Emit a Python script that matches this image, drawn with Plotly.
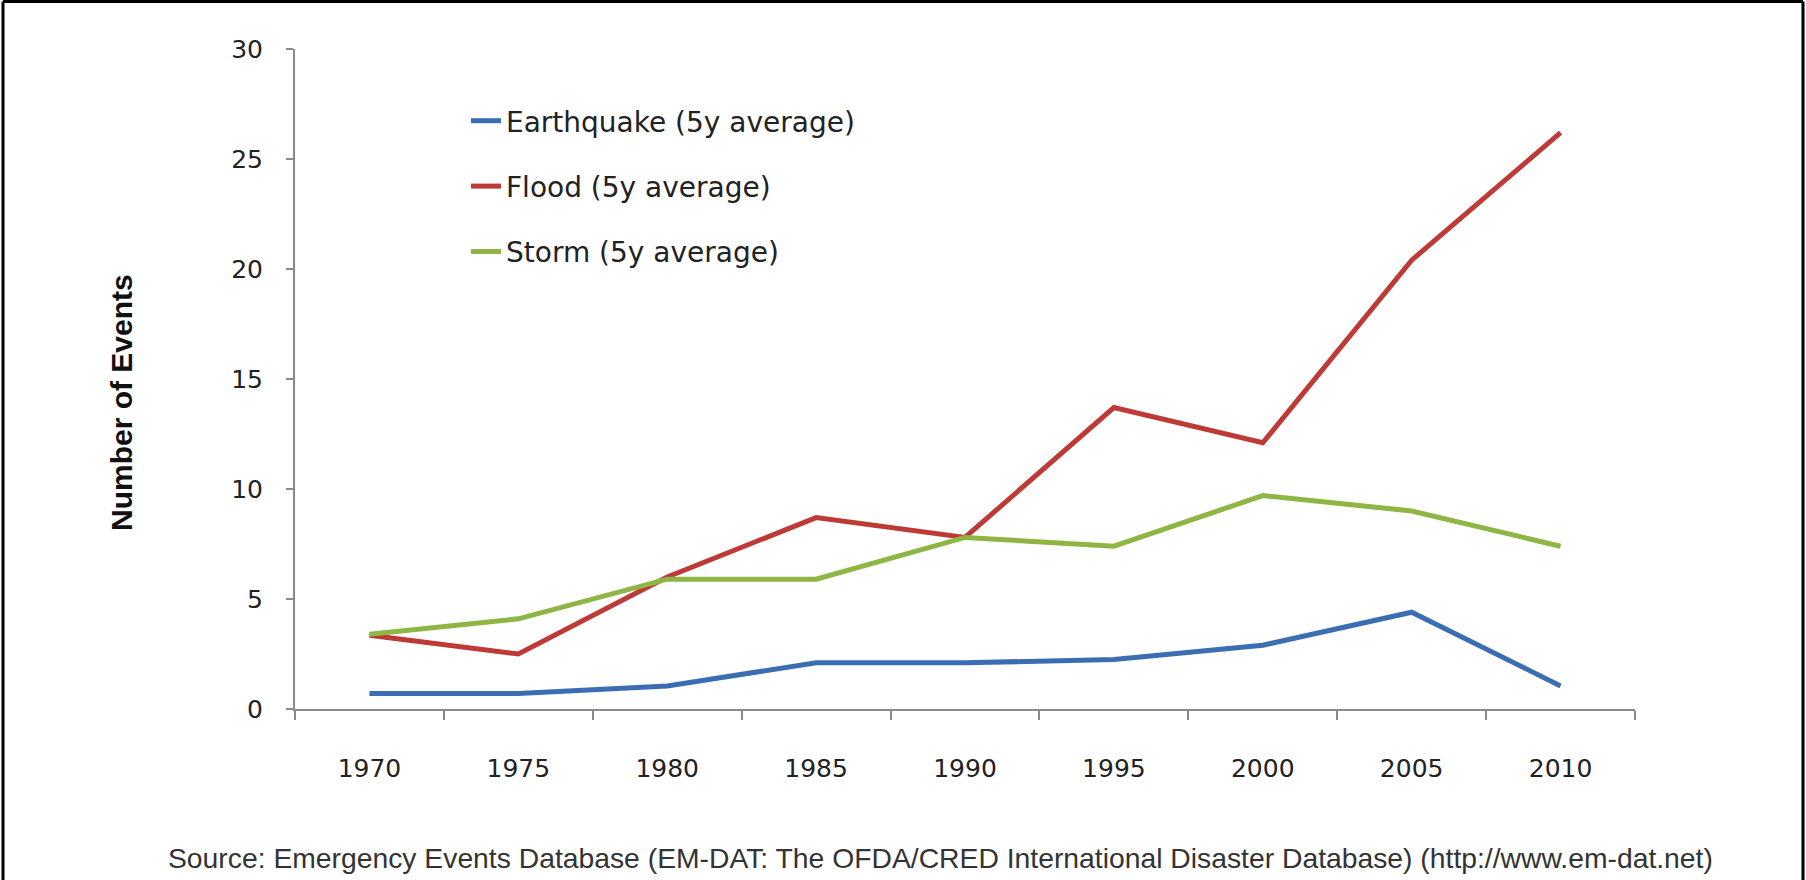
import plotly.graph_objects as go

years = ["1970", "1975", "1980", "1985", "1990", "1995", "2000", "2005", "2010"]
earthquake = [0.7, 0.7, 1.05, 2.1, 2.1, 2.25, 2.9, 4.4, 1.05]
flood = [3.35, 2.5, 6.0, 8.7, 7.8, 13.7, 12.1, 20.4, 26.2]
storm = [3.4, 4.1, 5.9, 5.9, 7.8, 7.4, 9.7, 9.0, 7.4]

series_names = ["Earthquake (5y average)", "Flood (5y average)", "Storm (5y average)"]
series_colors = ["#3b6db3", "#bd3a37", "#8fb544"]

W, H = 1806, 880
L, R, T, B = 295, 171, 49, 171
pw, ph = W - L - R, H - T - B

fig = go.Figure()
for name, vals, col in zip(series_names, [earthquake, flood, storm], series_colors):
    fig.add_trace(go.Scatter(x=years, y=vals, mode="lines", name=name,
                             legendgroup=name,
                             line=dict(color=col, width=5)))

tick_font = dict(family="DejaVu Sans, Open Sans, sans-serif", size=25, color="#222222")

fig.update_layout(
    width=W, height=H,
    margin=dict(l=L, r=R, t=T, b=B),
    paper_bgcolor="white", plot_bgcolor="white",
    showlegend=True,
    legend=dict(x=(466 - L) / pw, xanchor="left", y=(H - B - 96) / ph, yanchor="top",
                font=dict(family="DejaVu Sans, Open Sans, sans-serif", size=28, color="#222222"),
                tracegroupgap=26, bgcolor="rgba(0,0,0,0)", itemwidth=30),
    xaxis=dict(type="category", range=[-0.5, 8.5], showline=True, linecolor="#8a8a8a",
               linewidth=2, ticks="outside", tickson="boundaries", ticklen=9,
               tickcolor="#8a8a8a", tickwidth=2, showgrid=False, zeroline=False,
               tickfont=tick_font, ticklabelstandoff=36),
    yaxis=dict(range=[0, 30], dtick=5, showline=True, linecolor="#8a8a8a", linewidth=2,
               ticks="outside", ticklen=7, tickcolor="#8a8a8a", tickwidth=2,
               showgrid=False, zeroline=False, tickfont=tick_font, ticklabelstandoff=18),
    annotations=[
        dict(text="<b>Number of Events</b>", textangle=-90,
             xref="paper", yref="paper", x=(121 - L) / pw, y=(H - B - 403) / ph,
             xanchor="center", yanchor="middle", showarrow=False,
             font=dict(family="Liberation Sans, Arial, sans-serif", size=30, color="#111111")),
        dict(
            text="Source: Emergency Events Database (EM-DAT: The OFDA/CRED International Disaster Database) (http://www.em-dat.net)",
            xref="paper", yref="paper", x=(940 - L) / pw, y=(H - B - 858) / ph,
            xanchor="center", yanchor="middle", showarrow=False,
            font=dict(family="Liberation Sans, Arial, sans-serif", size=28.3, color="#333333"))],
    shapes=[
        dict(type="line", xref="paper", yref="paper",
             x0=(3 - L) / pw, x1=(3 - L) / pw, y0=(H - B - 880) / ph, y1=(H - B - 1.5) / ph,
             line=dict(color="black", width=3)),
        dict(type="line", xref="paper", yref="paper",
             x0=(3 - L) / pw, x1=(1803 - L) / pw, y0=(H - B - 1.5) / ph, y1=(H - B - 1.5) / ph,
             line=dict(color="black", width=3)),
        dict(type="line", xref="paper", yref="paper",
             x0=(1803 - L) / pw, x1=(1803 - L) / pw, y0=(H - B - 880) / ph, y1=(H - B - 1.5) / ph,
             line=dict(color="black", width=3)),
    ],
)

fig.write_html("out.html")
